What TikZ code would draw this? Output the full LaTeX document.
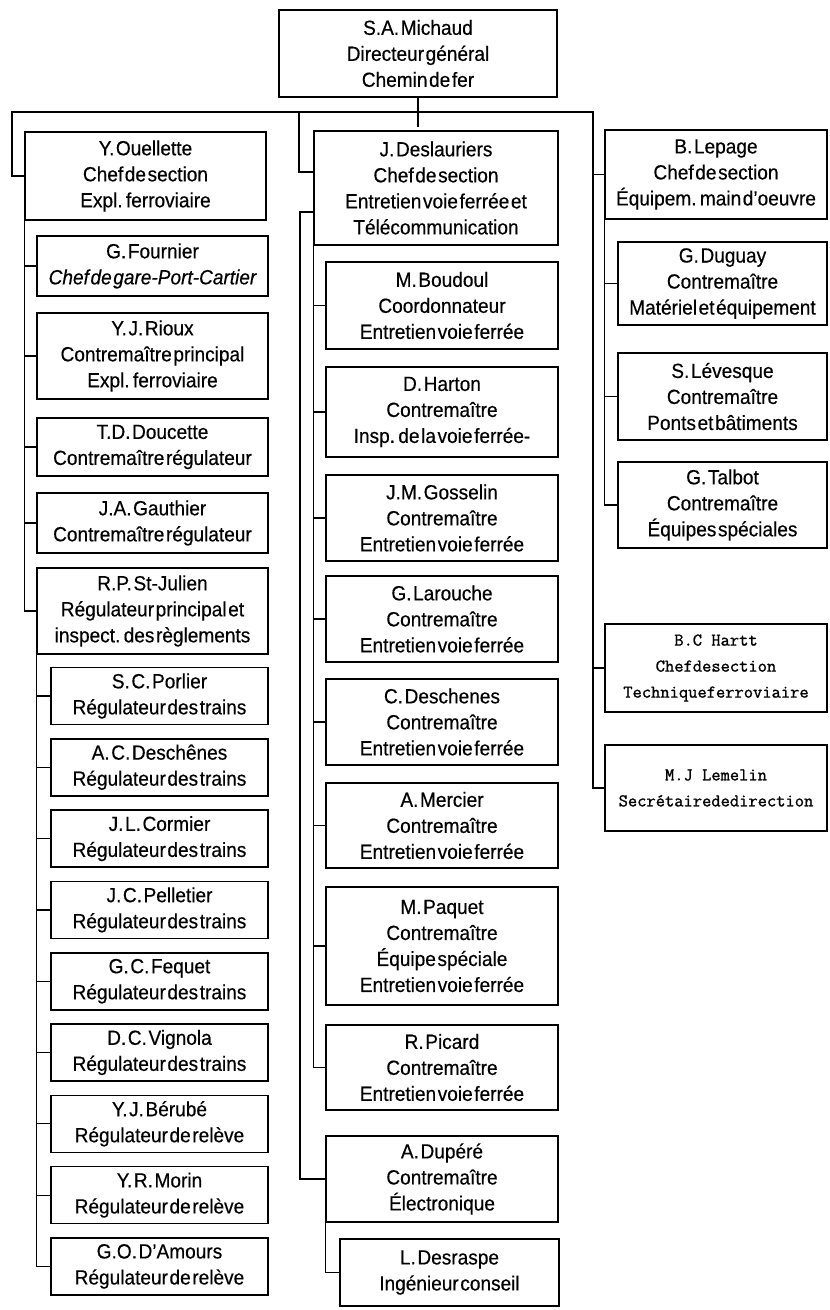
\documentclass[tikz,border=0pt]{standalone}
\usepackage{fontspec}
\setmainfont{Liberation Sans}[WordSpace=0.3, FakeStretch=0.93, FakeBold=0.4]
\setmonofont{Latin Modern Mono}[FakeBold=1.2]
\tikzset{
  bx/.style={draw, line width=1.6pt, inner sep=0pt, align=center, font=\fontsize{20.5}{26}\selectfont},
  tw/.style={bx, font=\ttfamily\fontsize{18}{26}\selectfont},
  ln/.style={line width=1.2pt},
}
\newcommand\bxn[6]{\node[bx,minimum width=#4pt,minimum height=#5pt] (#1) at (#2,#3) {#6};}
\newcommand\twn[6]{\node[tw,minimum width=#4pt,minimum height=#5pt] (#1) at (#2,#3) {#6};}
\begin{document}
\begin{tikzpicture}[x=1pt,y=-1pt]
\fill[white] (0,0) rectangle (830,1310);
\useasboundingbox (0,0) rectangle (830,1310);
% top
\bxn{mich}{418}{53.5}{278}{87}{S.A. Michaud\\Directeur général\\Chemin de fer}
\bxn{ouel}{145.5}{176}{241}{88}{Y. Ouellette\\Chef de section\\Expl. ferroviaire}
\bxn{des}{436}{188}{244}{114}{J. Deslauriers\\Chef de section\\Entretien voie ferrée et\\Télécommunication}
\bxn{lep}{716}{174.5}{222}{89}{B. Lepage\\Chef de section\\Équipem. main d'oeuvre}
% left column
\bxn{four}{152.5}{266}{231}{60}{G. Fournier\\\itshape Chef de gare-Port-Cartier}
\bxn{riou}{152.5}{356}{231}{86}{Y. J. Rioux\\Contremaître principal\\Expl. ferroviaire}
\bxn{douc}{152.5}{447}{231}{58}{T.D. Doucette\\Contremaître régulateur}
\bxn{gaut}{152.5}{523}{231}{60}{J.A. Gauthier\\Contremaître régulateur}
\bxn{stj}{152.5}{611}{231}{86}{R.P. St-Julien\\Régulateur principal et\\inspect. des règlements}
\bxn{porl}{159.5}{696}{217}{57}{S. C. Porlier\\Régulateur des trains}
\bxn{desc}{159.5}{767.3}{217}{57}{A. C. Deschênes\\Régulateur des trains}
\bxn{corm}{159.5}{838.6}{217}{57}{J. L. Cormier\\Régulateur des trains}
\bxn{pell}{159.5}{909.9}{217}{57}{J. C. Pelletier\\Régulateur des trains}
\bxn{fequ}{159.5}{981.2}{217}{57}{G. C. Fequet\\Régulateur des trains}
\bxn{vign}{159.5}{1052.5}{217}{57}{D. C. Vignola\\Régulateur des trains}
\bxn{beru}{159.5}{1123.8}{217}{57}{Y. J. Bérubé\\Régulateur de relève}
\bxn{mori}{159.5}{1195.1}{217}{57}{Y. R. Morin\\Régulateur de relève}
\bxn{amou}{159.5}{1266.4}{217}{57}{G.O. D'Amours\\Régulateur de relève}
% middle column
\bxn{boud}{442}{305.5}{232}{87}{M. Boudoul\\Coordonnateur\\Entretien voie ferrée}
\bxn{hart}{442}{412}{232}{90}{D. Harton\\Contremaître\\Insp. de la voie ferrée-}
\bxn{goss}{442}{518}{232}{86}{J.M. Gosselin\\Contremaître\\Entretien voie ferrée}
\bxn{laro}{442}{619}{232}{86}{G. Larouche\\Contremaître\\Entretien voie ferrée}
\bxn{cdes}{442}{722}{232}{86}{C. Deschenes\\Contremaître\\Entretien voie ferrée}
\bxn{merc}{442}{825.5}{232}{85}{A. Mercier\\Contremaître\\Entretien voie ferrée}
\bxn{paqu}{442}{946}{232}{118}{M. Paquet\\Contremaître\\Équipe spéciale\\Entretien voie ferrée}
\bxn{pica}{442}{1067.5}{232}{85}{R. Picard\\Contremaître\\Entretien voie ferrée}
\bxn{dupe}{442}{1179}{232}{86}{A. Dupéré\\Contremaître\\Électronique}
\bxn{desr}{449.5}{1272.5}{219}{67}{L. Desraspe\\Ingénieur conseil}
% right column
\bxn{dugu}{722.5}{283.5}{209}{83}{G. Duguay\\Contremaître\\Matériel et équipement}
\bxn{leve}{722.5}{396.5}{209}{87}{S. Lévesque\\Contremaître\\Ponts et bâtiments}
\bxn{talb}{722.5}{505}{209}{86}{G. Talbot\\Contremaître\\Équipes spéciales}
\twn{harr}{716}{668}{222}{88}{B.C Hartt\\Chefdesection\\Techniqueferroviaire}
\twn{leme}{716}{788}{222}{86}{M.J Lemelin\\Secrétairededirection}
% connectors top
\coordinate (stub) at (418,127);
\coordinate (bl) at (12,112);
\coordinate (bm) at (299,112);
\coordinate (br) at (593,112);
\draw[ln] (mich.south) -- (stub);
\draw[ln] (ouel.west) -| (bl) -- (br) |- (leme.west);
\draw[ln] (bm) |- (des.west |- 0,172);
\draw[ln] (br |- lep.west) -- (lep.west);
\draw[ln] (br |- harr.west) -- (harr.west);
% left column connectors
\draw[ln] (ouel.south west) |- (stj.west);
\foreach \n in {four,riou,douc,gaut}{\draw[ln] (ouel.south west |- \n.west) -- (\n.west);}
\draw[ln] (stj.south west) |- (amou.west);
\foreach \n in {porl,desc,corm,pell,fequ,vign,beru,mori}{\draw[ln] (stj.south west |- \n.west) -- (\n.west);}
% middle column connectors
\draw[ln] (des.south west) |- (pica.west);
\foreach \n in {boud,hart,goss,laro,cdes,merc,paqu}{\draw[ln] (des.south west |- \n.west) -- (\n.west);}
\coordinate (dl) at (300,212);
\draw[ln] (des.west |- dl) -- (dl) |- (dupe.west);
\draw[ln] (dupe.south west) |- (desr.west);
% right column connectors
\draw[ln] (lep.south west) |- (talb.west);
\foreach \n in {dugu,leve}{\draw[ln] (lep.south west |- \n.west) -- (\n.west);}
\end{tikzpicture}
\end{document}
